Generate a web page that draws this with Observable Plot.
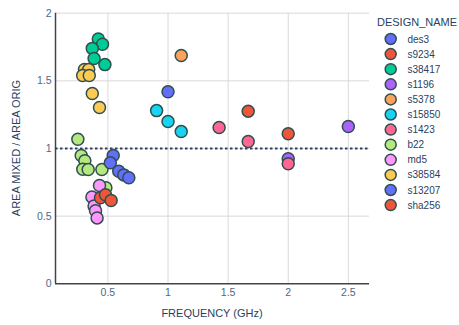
<!DOCTYPE html>
<html>
<head>
<meta charset="utf-8">
<script src="https://cdn.jsdelivr.net/npm/d3@7"></script>
<script src="https://cdn.jsdelivr.net/npm/@observablehq/plot@0.6"></script>
<style>
  html, body { margin: 0; padding: 0; background: #fff; }
  #chart { width: 459px; height: 325px; }
</style>
</head>
<body>
<div id="chart"></div>
<script>
// Legend order / categories
const designNames = ["des3", "s9234", "s38417", "s1196", "s5378", "s15850", "s1423", "b22", "md5", "s38584", "s13207", "sha256"];
const palette = ["#636efa", "#EF553B", "#00cc96", "#ab63fa", "#FFA15A", "#19d3f3", "#FF6692", "#B6E880", "#FF97FF", "#FECB52", "#636efa", "#EF553B"];

// Data points
const design = [
  "des3",
  "s9234", "s9234",
  "s38417", "s38417", "s38417", "s38417", "s38417",
  "s1196", "s1196",
  "s5378",
  "s15850", "s15850", "s15850",
  "s1423", "s1423", "s1423",
  "b22", "b22", "b22", "b22", "b22", "b22", "b22",
  "md5", "md5", "md5", "md5", "md5",
  "s38584", "s38584", "s38584", "s38584", "s38584", "s38584",
  "s13207", "s13207", "s13207", "s13207", "s13207",
  "sha256", "sha256", "sha256"
];
const frequency = [
  1.0,
  1.667, 2.0,
  0.42, 0.455, 0.37, 0.385, 0.475,
  2.5, 2.0,
  1.11,
  0.905, 1.0, 1.11,
  1.425, 1.667, 2.0,
  0.25, 0.278, 0.308, 0.291, 0.336, 0.45, 0.483,
  0.43, 0.367, 0.385, 0.397, 0.41,
  0.305, 0.34, 0.29, 0.345, 0.37, 0.43,
  0.544, 0.52, 0.59, 0.632, 0.674,
  0.438, 0.48, 0.527
];
const areaRatio = [
  1.42,
  1.276, 1.109,
  1.81, 1.77, 1.74, 1.665, 1.62,
  1.163, 0.924,
  1.687,
  1.28, 1.2, 1.125,
  1.155, 1.052, 0.887,
  1.069, 0.948, 0.909, 0.847, 0.845, 0.845, 0.71,
  0.727, 0.642, 0.575, 0.54, 0.487,
  1.584, 1.584, 1.54, 1.54, 1.406, 1.303,
  0.948, 0.894, 0.832, 0.805, 0.784,
  0.636, 0.658, 0.616
];
const xTicks = [0.5, 1, 1.5, 2, 2.5];
const yTicks = [0, 0.5, 1, 1.5, 2];
const referenceLine = [1];
const xTitle = "FREQUENCY (GHz)";
const yTitle = "AREA MIXED / AREA ORIG";
const legendTitle = "DESIGN_NAME";

const rows = design.map((d, i) => ({design: d, freq: frequency[i], ratio: areaRatio[i], idx: designNames.indexOf(d)}));
rows.sort((a, b) => a.idx - b.idx);

const xDomain = [0.064, 2.676];
const tickColor = "#506784";
const titleColor = "#2a3f5f";
const font = "Arial, 'Liberation Sans', sans-serif";
const fmt = d => String(d);

const chart = Plot.plot({
  width: 459,
  height: 325,
  marginLeft: 55,
  marginRight: 90,
  marginTop: 12.7,
  marginBottom: 41.7,
  style: {fontFamily: font, background: "#fff", overflow: "visible"},
  x: {domain: xDomain, ticks: xTicks},
  y: {domain: [0, 2], ticks: yTicks},
  color: {domain: designNames, range: palette},
  marks: [
    Plot.gridX(xTicks, {stroke: "#d9d9d9", strokeOpacity: 1, strokeWidth: 1}),
    Plot.gridY(yTicks.filter(t => t > 0), {stroke: "#d9d9d9", strokeOpacity: 1, strokeWidth: 1}),
    Plot.axisX(xTicks, {tickSize: 0, tickPadding: 5, fontSize: 10.5, fill: tickColor, label: null, tickFormat: fmt}),
    Plot.axisY(yTicks, {tickSize: 0, tickPadding: 4, fontSize: 10.5, fill: tickColor, label: null, tickFormat: fmt}),
    Plot.ruleY([0], {stroke: "#444", strokeWidth: 1.5}),
    Plot.ruleX([xDomain[0]], {stroke: "#444", strokeWidth: 1.5}),
    Plot.ruleY(referenceLine, {stroke: "#2a3f5f", strokeWidth: 2, strokeDasharray: "2.5,2.5"}),
    Plot.dot(rows, {x: "freq", y: "ratio", fill: "design", r: 6, stroke: "#2F4F4F", strokeWidth: 1.5, fillOpacity: 1})
  ]
});

const svg = d3.select(chart);
// axis titles
svg.append("text")
  .attr("x", 212).attr("y", 313)
  .attr("text-anchor", "middle").attr("dominant-baseline", "central")
  .attr("font-size", 11).attr("fill", titleColor).attr("font-family", font)
  .text(xTitle);
svg.append("text")
  .attr("transform", "translate(16,148) rotate(-90)")
  .attr("text-anchor", "middle").attr("dominant-baseline", "central")
  .attr("font-size", 11).attr("fill", titleColor).attr("font-family", font)
  .text(yTitle);

// legend
const lg = svg.append("g").attr("font-family", font).attr("text-anchor", "start");
lg.append("text").attr("x", 377).attr("y", 22).attr("text-anchor", "start")
  .attr("dominant-baseline", "central").attr("font-size", 11).attr("fill", titleColor)
  .text(legendTitle);
designNames.forEach((name, i) => {
  const y = 39 + i * 15.1;
  lg.append("circle").attr("cx", 390.7).attr("cy", y).attr("r", 5.5)
    .attr("fill", palette[i]).attr("stroke", "#2F4F4F").attr("stroke-width", 1.5);
  lg.append("text").attr("x", 407.5).attr("y", y).attr("text-anchor", "start")
    .attr("dominant-baseline", "central").attr("font-size", 10).attr("fill", titleColor)
    .text(name);
});

document.getElementById("chart").appendChild(chart);
</script>
</body>
</html>
